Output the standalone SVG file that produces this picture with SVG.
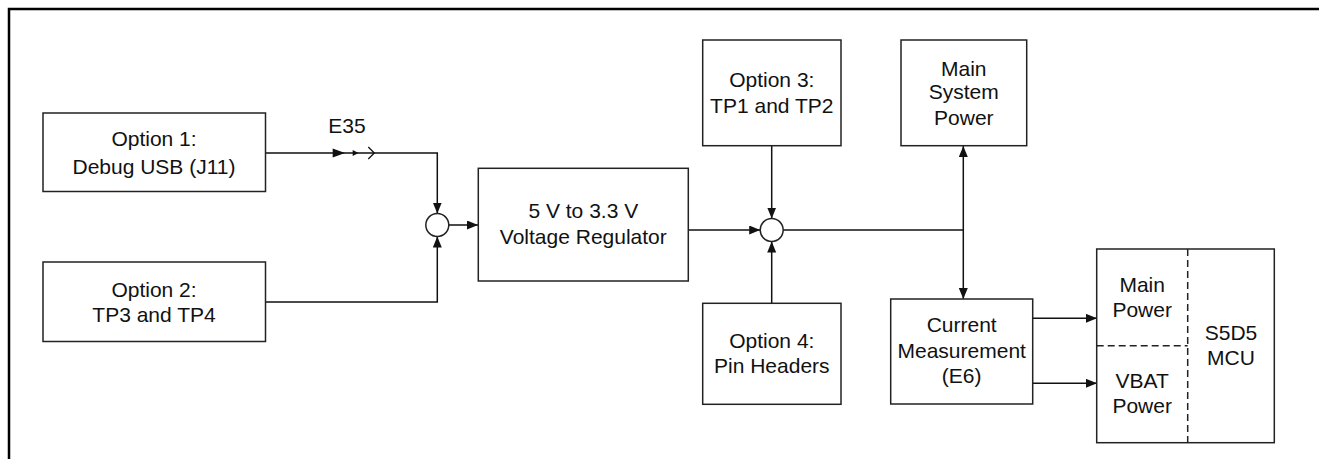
<svg xmlns="http://www.w3.org/2000/svg" width="1319" height="459" viewBox="0 0 1319 459">
<style>
.box{fill:#fff;stroke:#222;stroke-width:1.5}
.ln{fill:none;stroke:#111;stroke-width:1.5}
.dash{fill:none;stroke:#222;stroke-width:1.5;stroke-dasharray:7,4}
text{font-family:"Liberation Sans",Arial,sans-serif;font-size:21px;fill:#111;text-anchor:middle}
</style>
<defs>
<marker id="ah" markerUnits="userSpaceOnUse" markerWidth="12" markerHeight="10" refX="11" refY="4.5" orient="auto">
<path d="M0,0 L11,4.5 L0,9 z" fill="#111"/>
</marker>
</defs>
<rect x="0" y="0" width="1319" height="459" fill="#fff"/>
<path d="M9,459 V9 H1319" fill="none" stroke="#000" stroke-width="2.5"/>

<g id="connectors">
<path class="ln" d="M265.5,153 H437.3 V213.5" marker-end="url(#ah)"/>
<path class="ln" d="M265.5,302 H437.3 V236.5" marker-end="url(#ah)"/>
<path class="ln" d="M448.8,225 H478" marker-end="url(#ah)"/>
<path class="ln" d="M688,230 H760.2" marker-end="url(#ah)"/>
<path class="ln" d="M771.7,146 V218.5" marker-end="url(#ah)"/>
<path class="ln" d="M771.7,303.5 V241.5" marker-end="url(#ah)"/>
<path class="ln" d="M783.2,230 H963.3"/>
<path class="ln" d="M963.3,230 V146" marker-end="url(#ah)"/>
<path class="ln" d="M963.3,230 V299" marker-end="url(#ah)"/>
<path class="ln" d="M1033,318.3 H1097" marker-end="url(#ah)"/>
<path class="ln" d="M1033,383.3 H1097" marker-end="url(#ah)"/>
</g>

<g id="jumper-e35">
<path d="M332.7,148.5 L345,153 L332.7,157.5 z" fill="#111"/>
<path d="M352.7,150 L358.5,153 L352.7,156 z" fill="#111"/>
<path d="M368.3,147 L374.3,153 L368.3,159" fill="none" stroke="#111" stroke-width="1.3"/>
<text x="347" y="132.7">E35</text>
</g>

<g id="option1">
<rect class="box" x="43" y="113" width="222.5" height="78.5"/>
<text x="154" y="146">Option 1:</text>
<text x="154" y="174">Debug USB (J11)</text>
</g>
<g id="option2">
<rect class="box" x="43" y="262" width="222.5" height="79.5"/>
<text x="154" y="296.7">Option 2:</text>
<text x="154" y="321.7">TP3 and TP4</text>
</g>
<g id="junction1">
<circle class="box" cx="437.3" cy="225" r="11.5"/>
</g>
<g id="regulator">
<rect class="box" x="478.3" y="168.3" width="210" height="112.7"/>
<text x="583.3" y="218.3">5 V to 3.3 V</text>
<text x="583.3" y="244">Voltage Regulator</text>
</g>
<g id="junction2">
<circle class="box" cx="771.7" cy="230" r="11.5"/>
</g>
<g id="option3">
<rect class="box" x="702.7" y="40" width="138.3" height="105.7"/>
<text x="771.8" y="87.3">Option 3:</text>
<text x="771.8" y="113.3">TP1 and TP2</text>
</g>
<g id="option4">
<rect class="box" x="702.7" y="303.3" width="138.3" height="101"/>
<text x="771.8" y="348.3">Option 4:</text>
<text x="771.8" y="372.7">Pin Headers</text>
</g>
<g id="main-system-power">
<rect class="box" x="901" y="40" width="125.7" height="105.7"/>
<text x="963.8" y="76">Main</text>
<text x="963.8" y="99">System</text>
<text x="963.8" y="124.5">Power</text>
</g>
<g id="current-measurement">
<rect class="box" x="890.7" y="299" width="142" height="105"/>
<text x="961.7" y="331.7">Current</text>
<text x="961.7" y="358.3">Measurement</text>
<text x="961.7" y="383.3">(E6)</text>
</g>
<g id="mcu">
<rect class="box" x="1096.7" y="249" width="177.6" height="193.7"/>
<path class="dash" d="M1187.7,249 V442.7"/>
<path class="dash" d="M1096.7,345.7 H1187.7"/>
<text x="1142.2" y="291.7">Main</text>
<text x="1142.2" y="317.3">Power</text>
<text x="1142.2" y="388">VBAT</text>
<text x="1142.2" y="413">Power</text>
<text x="1231" y="340">S5D5</text>
<text x="1231" y="365">MCU</text>
</g>
</svg>
